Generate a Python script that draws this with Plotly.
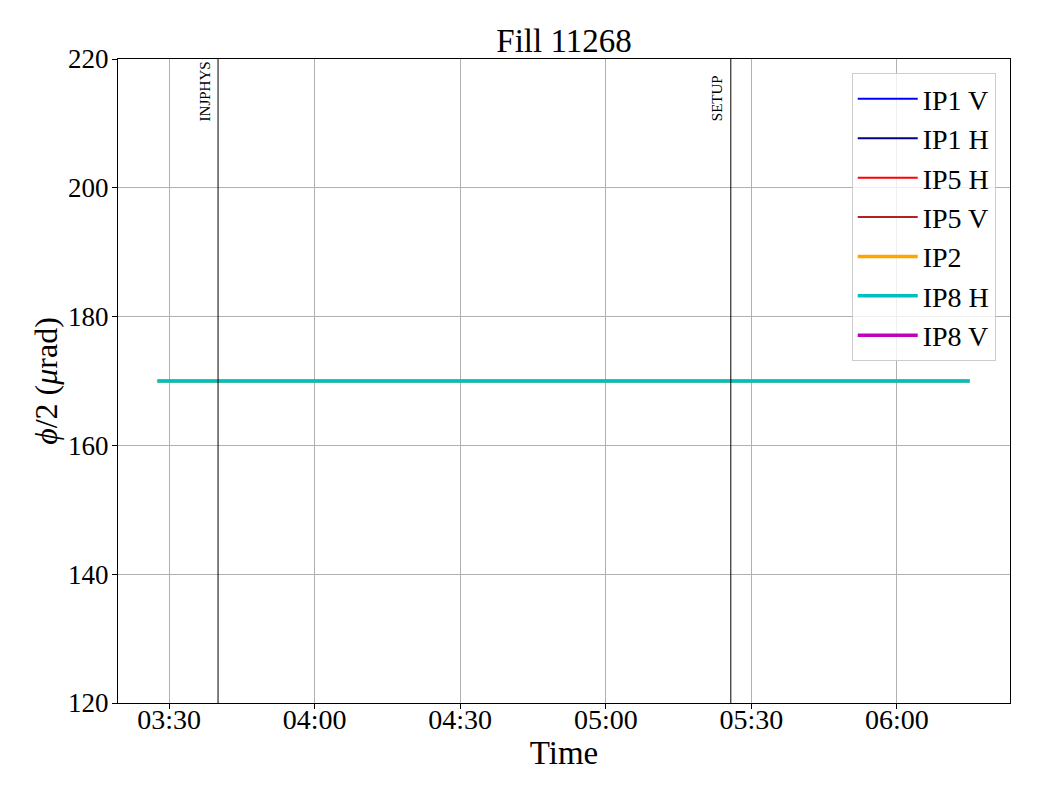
import plotly.graph_objects as go

DAY = "2025-10-01"

# beam crossing half-angle series (urad); series without data appear in the legend only
series_names = ["IP1 V", "IP1 H", "IP5 H", "IP5 V", "IP2", "IP8 H", "IP8 V"]
series_colors = ["#0000ff", "#00008b", "#ff0000", "#b22222", "#ffa500", "#00bfbf", "#bf00bf"]
series_widths = [2, 2, 2, 2, 3.5, 3.5, 3.5]
series_times = [
    [None], [None], [None], [None],
    [f"{DAY} 03:27:30", f"{DAY} 06:15:00"],
    [f"{DAY} 03:27:40", f"{DAY} 06:15:00"],
    [None],
]
series_values = [[None], [None], [None], [None], [170, 170], [170, 170], [None]]

mode_names = ["INJPHYS", "SETUP"]
mode_times = [f"{DAY} 03:40:06", f"{DAY} 05:25:46"]
mode_label_y = 210

x_range = [f"{DAY} 03:19:29", f"{DAY} 06:23:18"]
x_ticks = [f"{DAY} 03:30", f"{DAY} 04:00", f"{DAY} 04:30", f"{DAY} 05:00",
           f"{DAY} 05:30", f"{DAY} 06:00"]
x_ticklabels = ["03:30", "04:00", "04:30", "05:00", "05:30", "06:00"]

FONT = "Liberation Serif, Times New Roman, serif"
W, H = 1032, 792

fig = go.Figure()
for i, name in enumerate(series_names):
    fig.add_trace(
        go.Scatter(
            x=series_times[i],
            y=series_values[i],
            mode="lines",
            name=name,
            line={"color": series_colors[i], "width": series_widths[i]},
            showlegend=True,
        )
    )

for name, t in zip(mode_names, mode_times):
    fig.add_shape(
        type="line", xref="x", yref="paper", x0=t, x1=t, y0=0, y1=1,
        line={"color": "black", "width": 1},
    )
    fig.add_annotation(
        x=t, y=mode_label_y, xref="x", yref="y", text=name, textangle=-90,
        showarrow=False, xanchor="right", yanchor="bottom", xshift=-3,
        font={"family": FONT, "size": 15, "color": "black"},
    )

fig.update_layout(
    width=W,
    height=H,
    paper_bgcolor="white",
    plot_bgcolor="white",
    margin={"l": 110, "r": 30, "t": 51, "b": 97},
    font={"family": FONT, "color": "black"},
    title={
        "text": "Fill 11268",
        "x": (0.5 * (118 + 1010) - 8) / W,
        "xanchor": "center",
        "y": 1 - 32 / H,
        "yanchor": "middle",
        "font": {"size": 33},
    },
    xaxis={
        "type": "date",
        "range": x_range,
        "tickvals": x_ticks,
        "ticktext": x_ticklabels,
        "showgrid": True,
        "gridcolor": "#b0b0b0",
        "gridwidth": 1,
        "showline": True,
        "linecolor": "black",
        "mirror": True,
        "ticks": "outside",
        "ticklen": 5,
        "tickcolor": "black",
        "tickfont": {"size": 28},
        "ticklabelstandoff": -14,
        "title": {"text": "Time", "font": {"size": 33}, "standoff": 0},
        "zeroline": False,
    },
    yaxis={
        "range": [120, 220],
        "tickvals": [120, 140, 160, 180, 200, 220],
        "showgrid": True,
        "gridcolor": "#b0b0b0",
        "gridwidth": 1,
        "showline": True,
        "linecolor": "black",
        "mirror": True,
        "ticks": "outside",
        "ticklen": 5,
        "tickcolor": "black",
        "tickfont": {"size": 27},
        "ticklabelstandoff": -2,
        "title": {"text": "<i>ϕ</i>/2 (<i>μ</i>rad)", "font": {"size": 32}, "standoff": 0},
        "zeroline": False,
    },
    legend={
        "x": 0.984,
        "y": 0.978,
        "xanchor": "right",
        "yanchor": "top",
        "bgcolor": "rgba(255,255,255,0.8)",
        "bordercolor": "#cccccc",
        "borderwidth": 1,
        "font": {"size": 28},
        "itemwidth": 60,
        "tracegroupgap": 0,
    },
    showlegend=True,
)

fig.write_html("out.html")
